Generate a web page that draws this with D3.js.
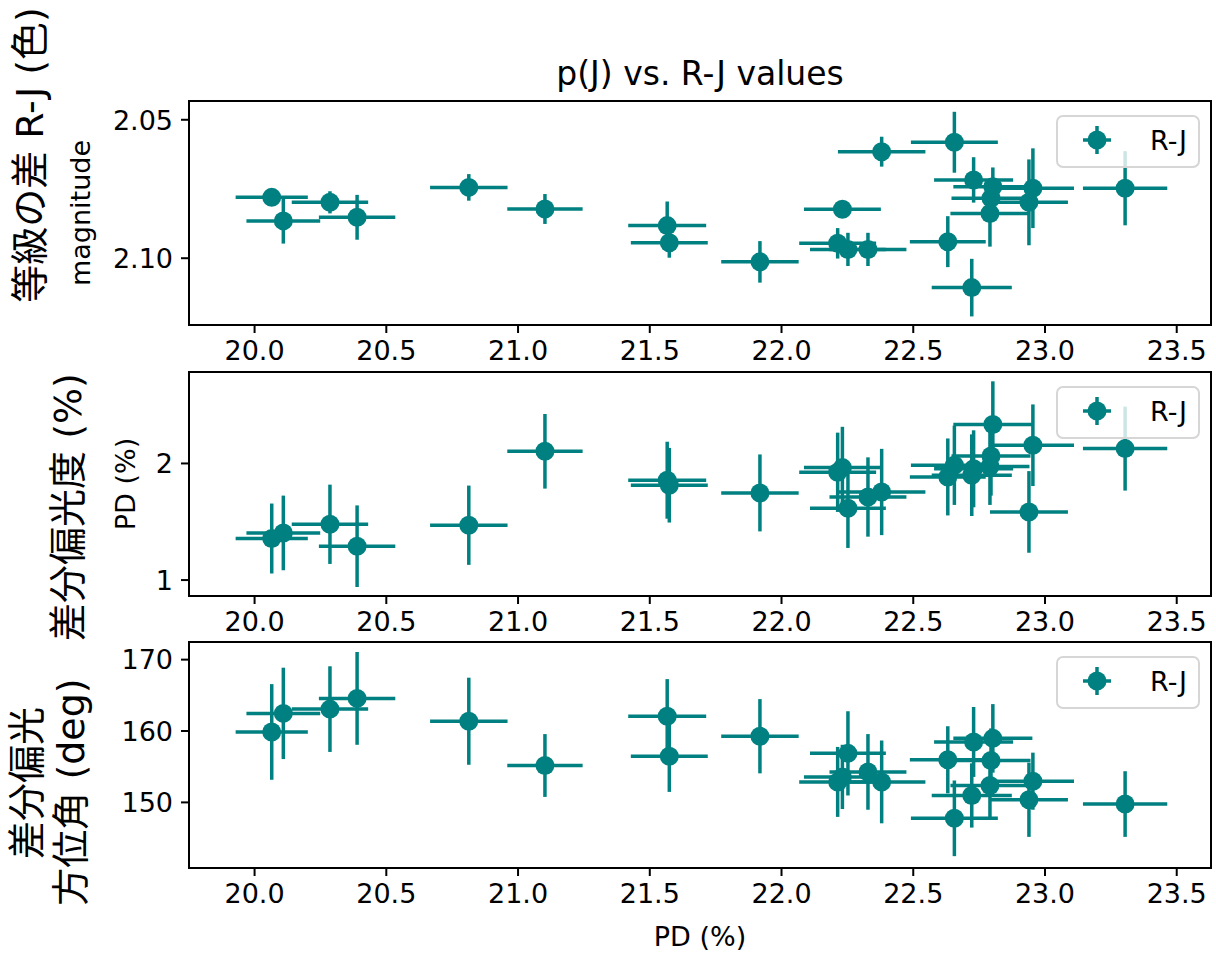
<!DOCTYPE html>
<html lang="en">
<head>
<meta charset="utf-8">
<title>p(J) vs. R-J values</title>
<script src="https://cdn.jsdelivr.net/npm/d3@7"></script>
<style>
  body { margin: 0; background: #fff; }
  text { font-family: "DejaVu Sans", sans-serif; }
  .tick text { font-size: 27px; fill: #000; }
  .tick line { stroke: #000; stroke-width: 2px; }
  .domain { display: none; }
  .jp { font-family: "DejaVu Sans", "Noto Sans CJK JP", sans-serif; font-size: 38px; }
</style>
</head>
<body>
<div id="chart"></div>
<script>
// x values (shared by the three panels) and their errors
var xVals = [20.067, 20.111, 20.288, 20.391, 20.815, 21.104, 21.568, 21.576, 21.920, 22.215, 22.233, 22.254,
             22.330, 22.382, 22.633, 22.658, 22.724, 22.731, 22.804, 22.797, 22.793, 22.956, 22.941, 23.306];
var xErr = [0.137, 0.140, 0.145, 0.145, 0.147, 0.143, 0.148, 0.146, 0.147, 0.146, 0.146, 0.144,
            0.146, 0.166, 0.144, 0.165, 0.152, 0.150, 0.150, 0.150, 0.150, 0.156, 0.148, 0.160];

// panel 1: magnitude difference R-J
var magVals = [2.0782, 2.0867, 2.0800, 2.0854, 2.0746, 2.0824, 2.0884, 2.0946, 2.1015, 2.0948, 2.0825, 2.0970,
               2.0970, 2.0617, 2.0942, 2.0583, 2.1108, 2.0719, 2.0744, 2.0785, 2.0840, 2.0749, 2.0800, 2.0749];
var magErr = [0.001, 0.0082, 0.004, 0.0081, 0.0048, 0.0054, 0.0087, 0.0054, 0.0075, 0.0055, 0.001, 0.006,
              0.006, 0.0054, 0.0092, 0.011, 0.0104, 0.0082, 0.007, 0.006, 0.012, 0.0144, 0.0155, 0.0134];

// panel 2: PD (%)
var pdVals = [1.352, 1.400, 1.474, 1.286, 1.466, 2.100, 1.852, 1.809, 1.743, 1.920, 1.960, 1.611,
              1.708, 1.751, 1.880, 1.980, 1.895, 1.950, 2.330, 2.060, 1.970, 2.152, 1.580, 2.123];
var pdErr = [0.30, 0.32, 0.34, 0.35, 0.34, 0.32, 0.33, 0.32, 0.33, 0.34, 0.35, 0.34,
             0.34, 0.37, 0.33, 0.34, 0.35, 0.33, 0.37, 0.34, 0.33, 0.35, 0.35, 0.36];

// panel 3: PA (deg)
var paVals = [159.8, 162.4, 163.0, 164.5, 161.3, 155.1, 162.0, 156.4, 159.2, 152.8, 153.5, 156.8,
              154.2, 152.8, 155.9, 147.7, 150.9, 158.4, 158.9, 155.8, 152.3, 152.9, 150.3, 149.7];
var paErr = [6.7, 6.4, 6.0, 6.5, 6.1, 4.4, 5.2, 5.0, 5.2, 4.9, 4.5, 5.9,
             5.3, 5.8, 4.7, 5.3, 4.5, 4.9, 4.8, 4.5, 4.5, 4.0, 5.2, 4.6];

var xTicks = [20.0, 20.5, 21.0, 21.5, 22.0, 22.5, 23.0, 23.5];
var magTicks = [2.05, 2.10];
var pdTicks = [1, 2];
var paTicks = [150, 160, 170];
var seriesName = "R-J";
var color = "#008080";

var W = 1216, H = 953;
var left = 189, right = 1211;

var svg = d3.select("#chart").append("svg")
    .attr("width", W).attr("height", H);

var x = d3.scaleLinear().domain([19.753, 23.632]).range([left, right]);

// panel definitions
var panels = [
  {top: 101, bottom: 325, domain: [2.0434, 2.1243], inverted: true, vals: magVals, err: magErr, ticks: magTicks, fmt: ".2f"},
  {top: 372, bottom: 596, domain: [0.859, 2.78], vals: pdVals, err: pdErr, ticks: pdTicks, fmt: "d"},
  {top: 642, bottom: 868, domain: [140.74, 172.4], vals: paVals, err: paErr, ticks: paTicks, fmt: "d"}
];

panels.forEach(function(p) {
  var y = d3.scaleLinear().domain(p.domain)
      .range(p.inverted ? [p.top, p.bottom] : [p.bottom, p.top]);

  var g = svg.append("g");

  // x axis
  g.append("g")
    .attr("transform", "translate(0," + p.bottom + ")")
    .call(d3.axisBottom(x).tickValues(xTicks).tickFormat(d3.format(".1f")).tickSize(8).tickPadding(8));

  // y axis
  g.append("g")
    .attr("transform", "translate(" + left + ",0)")
    .call(d3.axisLeft(y).tickValues(p.ticks).tickFormat(d3.format(p.fmt)).tickSize(8).tickPadding(8))
    .selectAll(".tick text").attr("dy", "0.36em");

  // error bars
  var pts = g.append("g");
  xVals.forEach(function(xv, i) {
    pts.append("line")
      .attr("x1", x(xv - xErr[i])).attr("x2", x(xv + xErr[i]))
      .attr("y1", y(p.vals[i])).attr("y2", y(p.vals[i]))
      .attr("stroke", color).attr("stroke-width", 3.5);
    pts.append("line")
      .attr("x1", x(xv)).attr("x2", x(xv))
      .attr("y1", y(p.vals[i] - p.err[i])).attr("y2", y(p.vals[i] + p.err[i]))
      .attr("stroke", color).attr("stroke-width", 3.5);
  });
  pts.selectAll("circle")
    .data(xVals)
    .enter()
    .append("circle")
    .attr("cx", function(d) { return x(d); })
    .attr("cy", function(d, i) { return y(p.vals[i]); })
    .attr("r", 9.5)
    .attr("fill", color);

  // frame
  g.append("rect")
    .attr("x", left).attr("y", p.top)
    .attr("width", right - left).attr("height", p.bottom - p.top)
    .attr("fill", "none").attr("stroke", "#000").attr("stroke-width", 2);

  // legend
  var lx = right - 154, ly = p.top + 15;
  var lg = g.append("g").attr("transform", "translate(" + lx + "," + ly + ")");
  lg.append("rect")
    .attr("width", 142).attr("height", 51).attr("rx", 6)
    .attr("fill", "rgba(255,255,255,0.8)")
    .attr("stroke", "#d6d6d6").attr("stroke-width", 2);
  lg.append("line").attr("x1", 26).attr("x2", 54).attr("y1", 24).attr("y2", 24)
    .attr("stroke", color).attr("stroke-width", 3.5);
  lg.append("line").attr("x1", 40).attr("x2", 40).attr("y1", 10).attr("y2", 38)
    .attr("stroke", color).attr("stroke-width", 3.5);
  lg.append("circle").attr("cx", 40).attr("cy", 24).attr("r", 9.5).attr("fill", color);
  lg.append("text").attr("x", 93).attr("y", 34)
    .style("font-size", "27px").text(seriesName);
});

// title
svg.append("text")
  .attr("x", (left + right) / 2).attr("y", 85)
  .attr("text-anchor", "middle")
  .style("font-size", "33px")
  .text("p(J) vs. R-J values");

// x label
svg.append("text")
  .attr("x", (left + right) / 2).attr("y", 946)
  .attr("text-anchor", "middle")
  .style("font-size", "27px")
  .text("PD (%)");

// y labels
function yLabel(txt, cx, cy, cls, size) {
  svg.append("text")
    .attr("class", cls)
    .attr("transform", "translate(" + cx + "," + cy + ") rotate(-90)")
    .attr("text-anchor", "middle")
    .attr("dominant-baseline", "central")
    .style("font-size", size)
    .text(txt);
}
yLabel("magnitude", 80, 213, "", "27px");
yLabel("PD (%)", 125, 484, "", "27px");

// big Japanese labels
yLabel("等級の差 R-J (色)", 30, 155, "jp", "38px");
yLabel("差分偏光度 (%)", 68, 507, "jp", "38px");
yLabel("差分偏光", 27, 783, "jp", "38px");
yLabel("方位角 (deg)", 71, 792, "jp", "38px");
</script>
</body>
</html>
